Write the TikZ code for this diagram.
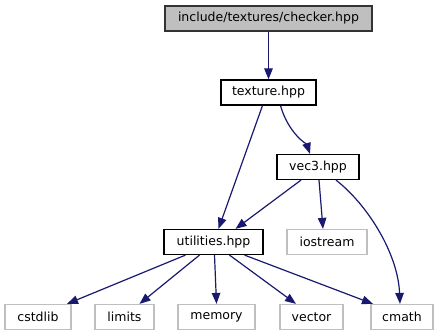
\documentclass[tikz,border=0pt]{standalone}
\usepackage{fontspec}
\setmainfont{DejaVu Sans}
\usetikzlibrary{arrows.meta}
\definecolor{edgeblue}{HTML}{191970}
\definecolor{lightframe}{HTML}{BFBFBF}
\tikzset{
  box/.style={draw=black, line width=1.2pt, inner sep=0pt, minimum height=25pt, font=\fontsize{12.5}{14}\selectfont, text=black},
  mainbox/.style={box, fill=lightframe, draw=black!80},
  sysbox/.style={box, draw=lightframe},
  dep/.style={draw=edgeblue, line width=1.2pt, -{Triangle[length=11pt,width=8.5pt]}}
}
\begin{document}
\begin{tikzpicture}[x=1pt,y=-1pt]
\useasboundingbox (0,0) rectangle (439,336);

% header files of the project
\node[mainbox, minimum width=207pt] (top) at (268.5,18.5) {include/textures/checker.hpp};
\node[box, minimum width=95pt] (texture) at (268.5,92.5) {texture.hpp};
\node[box, minimum width=82pt] (vec3) at (318,167) {vec3.hpp};
\node[box, minimum width=99pt] (util) at (213.5,242) {utilities.hpp};

% standard library headers
\node[sysbox, minimum width=80pt] (iostream) at (327,242) {iostream};
\node[sysbox, minimum width=66pt] (cstdlib) at (38,317) {cstdlib};
\node[sysbox, minimum width=59pt] (limits) at (124.5,317) {limits};
\node[sysbox, minimum width=77pt] (memory) at (216.5,317) {memory};
\node[sysbox, minimum width=63pt] (vector) at (311.5,317) {vector};
\node[sysbox, minimum width=62pt] (cmath) at (402,317) {cmath};

% include relations
\draw[dep] (top.south) -- (texture.north);
\draw[dep] ([xshift=-6pt]texture.south) -- ([xshift=5pt]util.north);
\draw[dep] ([xshift=12pt]texture.south) .. controls ([xshift=20pt,yshift=-28pt]texture.south) and ([xshift=-11pt,yshift=9pt]vec3.north) .. ([xshift=-8pt]vec3.north);
\draw[dep] ([xshift=-17pt]vec3.south) -- ([xshift=22pt]util.north);
\draw[dep] ([xshift=1pt]vec3.south) -- ([xshift=-4pt]iostream.north);
\draw[dep] ([xshift=18pt]vec3.south) .. controls ([xshift=50pt,yshift=-25pt]vec3.south) and ([xshift=-4pt,yshift=50pt]cmath.north) .. ([xshift=-2pt]cmath.north);

\draw[dep] ([xshift=-28pt]util.south) -- ([xshift=29pt]cstdlib.north);
\draw[dep] ([xshift=-14pt]util.south) -- ([xshift=15pt]limits.north);
\draw[dep] ([xshift=1pt]util.south) -- (memory.north);
\draw[dep] ([xshift=16pt]util.south) -- ([xshift=-15.5pt]vector.north);
\draw[dep] ([xshift=31pt]util.south) -- ([xshift=-29pt]cmath.north);
\end{tikzpicture}
\end{document}
